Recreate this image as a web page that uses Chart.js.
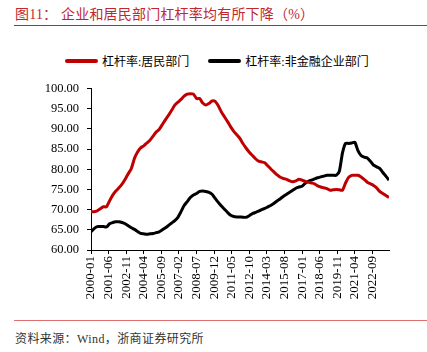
<!DOCTYPE html>
<html>
<head>
<meta charset="utf-8">
<script src="https://cdn.jsdelivr.net/npm/chart.js@4"></script>
<style>
  body { margin: 0; width: 427px; height: 352px; background: #fff; position: relative; overflow: hidden;
         font-family: 'Liberation Serif', 'Noto Sans CJK SC', serif; }
  #titulo { position: absolute; left: 15px; top: 3px; font-size: 14px; color: #C0282E; letter-spacing: 0.2px; white-space: nowrap; }
  #linhaTopo { position: absolute; left: 14px; right: 0; top: 25px; height: 1px; background: #C0282E; }
  #legenda { position: absolute; top: 52px; left: 65px; font-size: 12px; color: #000; white-space: nowrap; }
  #legenda span.item { display: inline-flex; align-items: center; margin-right: 16px; }
  #legenda i { display: inline-block; width: 33px; height: 4px; border-radius: 2px; margin-right: 4px; }
  #caixa { position: absolute; left: 0; top: 73px; width: 427px; height: 247px; }
  #linhaBase { position: absolute; left: 14px; right: 0; top: 320px; height: 1px; background: #E07070; }
  #fonte { position: absolute; left: 15px; top: 329px; font-size: 12px; color: #333; white-space: nowrap; letter-spacing: 0.4px; }
</style>
</head>
<body>
<div id="titulo">图11：&nbsp;企业和居民部门杠杆率均有所下降（%）</div>
<div id="linhaTopo"></div>
<div id="legenda">
  <span class="item"><i style="background:#C00000"></i>杠杆率:居民部门</span>
  <span class="item"><i style="background:#000"></i>杠杆率:非金融企业部门</span>
</div>
<div id="caixa"><canvas id="meuGrafico"></canvas></div>
<div id="linhaBase"></div>
<div id="fonte">资料来源：Wind，浙商证券研究所</div>

<script>
// dados trimestrais, x = meses desde 2000-01
const nomeResidencial = "杠杆率:居民部门";
const nomeEmpresas = "杠杆率:非金融企业部门";

const alavancagemResidencial = [
    69.5, 69.5, 69.7, 70.2, 70.7, 70.7, 72.2, 73.6, 74.6, 75.4, 76.3, 77.5,
    78.9, 80.2, 82.7, 84.3, 85.3, 85.8, 86.5, 87.2, 88.2, 89.2, 89.9, 91.1,
    92.3, 93.4, 94.6, 95.9, 96.6, 97.3, 98.1, 98.6, 98.7, 98.6, 97.5, 97.5,
    96.4, 95.9, 96.3, 96.9, 96.8, 95.7, 94.2, 93.0, 91.8, 90.5, 89.4, 88.5,
    87.6, 86.3, 85.2, 84.2, 83.4, 82.6, 82.0, 81.8, 81.6, 80.8, 80.0, 79.3,
    78.6, 78.0, 77.7, 77.5, 77.1, 76.9, 77.1, 77.5, 77.3, 77.0, 76.8, 76.6,
    76.4, 75.9, 75.6, 75.4, 75.2, 74.8, 74.9, 75.0, 74.9, 74.8, 76.6, 78.0,
    78.5, 78.5, 78.5, 78.1, 77.5, 76.8, 76.4, 76.0, 75.4, 74.5, 74.0, 73.5,
    73.0
];

const alavancagemEmpresas = [
    64.5, 65.3, 65.8, 65.8, 65.8, 65.7, 66.5, 66.8, 67.0, 67.0, 66.8, 66.5,
    66.0, 65.5, 65.1, 64.6, 64.1, 64.0, 63.9, 64.0, 64.1, 64.3, 64.5, 65.0,
    65.5, 66.1, 66.7, 67.3, 68.1, 69.5, 71.0, 72.0, 73.0, 73.6, 74.0, 74.5,
    74.6, 74.5, 74.3, 73.8, 72.8, 71.8, 70.9, 70.1, 69.3, 68.6, 68.3, 68.2,
    68.2, 68.1, 68.1, 68.5, 69.0, 69.3, 69.6, 70.0, 70.3, 70.7, 71.1, 71.6,
    72.2, 72.7, 73.3, 73.8, 74.3, 74.8, 75.3, 75.6, 75.8, 76.5, 77.0, 77.3,
    77.6, 77.9, 78.1, 78.3, 78.5, 78.5, 78.5, 78.5, 79.5, 84.0, 86.4, 86.4,
    86.5, 86.7, 84.6, 83.4, 83.0, 82.8, 82.0, 81.0, 80.6, 80.2, 79.2, 78.3,
    77.3
];

const mesesTicks = [0, 17, 34, 51, 68, 85, 102, 119, 136, 153, 170, 187, 204, 221, 238, 255, 272];
const rotulosTicks = ["2000-01", "2001-06", "2002-11", "2004-04", "2005-09", "2007-02", "2008-07", "2009-12",
    "2011-05", "2012-10", "2014-03", "2015-08", "2017-01", "2018-06", "2019-11", "2021-04", "2022-09"];

const PASSO_MESES = 3;

function montarPontos(valores) {
    return valores.map((v, i) => ({ x: i * PASSO_MESES, y: v }));
}

const ctx = document.getElementById('meuGrafico').getContext('2d');

new Chart(ctx, {
    type: 'line',
    data: {
        datasets: [{
            label: nomeResidencial,
            data: montarPontos(alavancagemResidencial),
            borderColor: '#C00000',
            backgroundColor: '#C00000',
            borderWidth: 3,
            tension: 0.2,
            pointRadius: 0
        }, {
            label: nomeEmpresas,
            data: montarPontos(alavancagemEmpresas),
            borderColor: '#000000',
            backgroundColor: '#000000',
            borderWidth: 3,
            tension: 0.2,
            pointRadius: 0
        }]
    },
    options: {
        responsive: true,
        maintainAspectRatio: false,
        animation: false,
        layout: { padding: { top: 1, right: 38, left: 0, bottom: 0 } },
        plugins: {
            legend: { display: false },
            tooltip: { enabled: false }
        },
        scales: {
            x: {
                type: 'linear',
                min: 0,
                max: (alavancagemResidencial.length - 1) * PASSO_MESES,
                afterBuildTicks: (scale) => {
                    scale.ticks = mesesTicks.map(m => ({ value: m }));
                },
                afterFit: (scale) => { scale.height = 70; },
                grid: { drawOnChartArea: false, drawTicks: true, tickLength: 4, color: '#000' },
                border: { color: '#000', width: 1 },
                ticks: {
                    autoSkip: false,
                    minRotation: 90,
                    maxRotation: 90,
                    padding: 2,
                    color: '#000',
                    font: { family: 'Liberation Serif', size: 13 },
                    callback: function(value) {
                        const idx = mesesTicks.indexOf(value);
                        return idx >= 0 ? rotulosTicks[idx] : '';
                    }
                }
            },
            y: {
                min: 60,
                max: 100,
                afterFit: (scale) => { scale.width = 91; },
                grid: { drawOnChartArea: false, drawTicks: true, tickLength: 4, color: '#000' },
                border: { color: '#000', width: 1 },
                ticks: {
                    stepSize: 5,
                    padding: 8,
                    color: '#000',
                    font: { family: 'Liberation Serif', size: 12.5 },
                    callback: function(value) {
                        return value.toFixed(2);
                    }
                }
            }
        }
    }
});
</script>
</body>
</html>
